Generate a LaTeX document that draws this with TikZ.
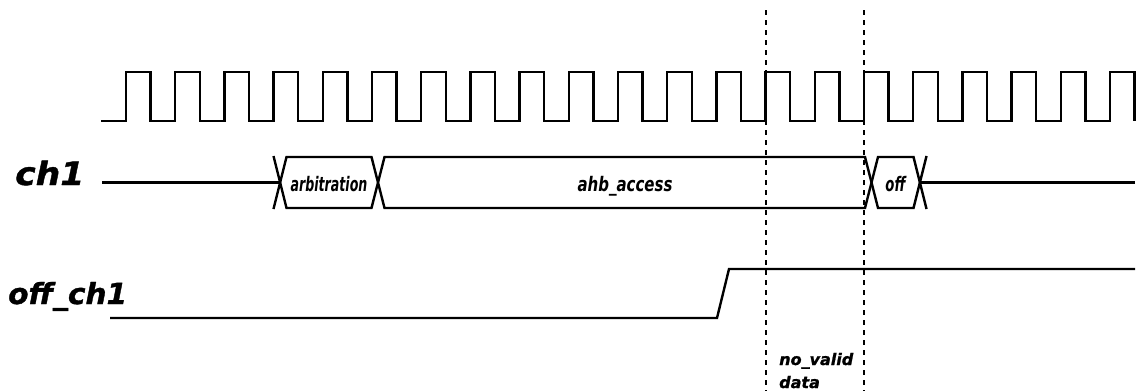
\documentclass[tikz,border=0pt]{standalone}
\usepackage{fontspec}
\setmainfont{DejaVu Sans}
\newfontfamily\heavyfont{DejaVu Sans}[FakeBold=1.2]
\usepackage{graphicx}
\begin{document}
\begin{tikzpicture}[x=1pt,y=-1pt,
  sig/.style={line width=2.4pt, line join=miter, line cap=butt},
  guide/.style={line width=2pt, dash pattern=on 4.5pt off 5.5pt},
  lbl/.style={inner sep=0pt, anchor=base west, font=\heavyfont\bfseries\itshape},
  buslbl/.style={inner sep=0pt, anchor=base, font=\bfseries\itshape}]
\useasboundingbox (0,0) rectangle (1139,391);
% clock
\draw[sig] (101,121) \foreach \k in {0,...,20} { -- ({126+49.2*\k},121) -- ++(0,-49) -- ++(24.6,0) -- ++(0,49) };
% dashed guides
\coordinate (g1t) at (766,10); \coordinate (g1b) at (766,391);
\coordinate (g2t) at (864,10); \coordinate (g2b) at (864,391);
\draw[guide] (g1t) -- (g1b);
\draw[guide] (g2t) -- (g2b);
% ch1 bus
\draw[sig] (102,182.5) -- (280,182.5);
\draw[sig] (273.5,209) -- (286.5,157) -- (371.5,157) -- (384.5,208) -- (865,208) -- (878,157) -- (913.5,157) -- (926.5,209);
\draw[sig] (273.5,156) -- (286.5,208) -- (371.5,208) -- (384.5,157) -- (865,157) -- (878,208) -- (913.5,208) -- (926.5,156);
\draw[sig] (920,182.5) -- (1135,182.5);
\node[buslbl] (arb) at (329,191.5) {\scalebox{0.63}[1]{\fontsize{20}{20}\selectfont arbitration}};
\node[buslbl] (ahb) at (625,191.5) {\scalebox{0.75}[1]{\fontsize{20}{20}\selectfont ahb\_access}};
\node[buslbl] (off) at (895.5,191.5) {\scalebox{0.66}[1]{\fontsize{20}{20}\selectfont off}};
% off_ch1
\draw[sig] (110,318) -- (717,318) -- (729,269) -- (1135,269);
% labels
\node[lbl] (ch1) at (15,185) {\scalebox{1.08}[1]{\fontsize{32}{32}\selectfont ch1}};
\node[lbl] (offch1) at (8,304) {\scalebox{1.02}[1]{\fontsize{29}{29}\selectfont off\_ch1}};
\node[lbl] (nv1) at (779,365) {\fontsize{16}{16}\selectfont no\_valid};
\node[lbl] (nv2) at (779,388) {\fontsize{16}{16}\selectfont data};
\end{tikzpicture}
\end{document}
